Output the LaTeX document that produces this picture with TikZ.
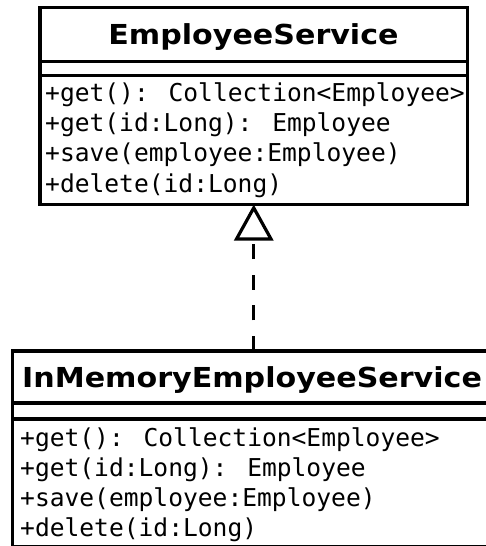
\documentclass[tikz,border=0pt]{standalone}
\usepackage{fontspec}
\usetikzlibrary{arrows.meta}
\newfontfamily\umltitle{DejaVu Sans}[BoldFont={DejaVu Sans Bold},FakeStretch=1.095]
\newfontfamily\umlmono{DejaVu Sans Mono}
\begin{document}
\begin{tikzpicture}[x=1pt,y=-1pt,
  classbox/.style={draw=black,line width=3.4pt,fill=white,inner sep=0pt,outer sep=0pt,anchor=north west},
  sepline/.style={draw=black,line width=3.4pt},
  titletext/.style={inner sep=0pt,anchor=base,font=\umltitle\bfseries\fontsize{27.5}{30}\selectfont},
  methodtext/.style={inner sep=0pt,anchor=base west,font=\umlmono\fontsize{24.6}{30}\selectfont},
  realize/.style={line width=3.4pt,dash pattern=on 15.3pt off 15.3pt,
    -{Triangle[open,length=36pt,width=39pt,line width=3.2pt]}}]
\useasboundingbox (0,0) rectangle (486,546);
\clip (0,0) rectangle (486,546);
% top class
\node[classbox,minimum width=427.5pt,minimum height=197pt] (es) at (40,7.5) {};
\draw[sepline] (40,61.5) -- (467.5,61.5);
\draw[sepline] (40,75.5) -- (467.5,75.5);
\node[titletext] (est) at (253.5,44.5) {EmployeeService};
\node[methodtext] (esm1) at (45,101) {+get(): Collection<Employee>};
\node[methodtext] (esm2) at (45,131.3) {+get(id:Long): Employee};
\node[methodtext] (esm3) at (45,161.6) {+save(employee:Employee)};
\node[methodtext] (esm4) at (45,192) {+delete(id:Long)};
% bottom class
\node[classbox,minimum width=482pt,minimum height=196pt] (ims) at (12.5,351) {};
\draw[sepline] (12.5,403) -- (494.5,403);
\draw[sepline] (12.5,419) -- (494.5,419);
\node[titletext,anchor=base west] (imst) at (22,387) {InMemoryEmployeeService};
\node[methodtext] (imsm1) at (20,446.5) {+get(): Collection<Employee>};
\node[methodtext] (imsm2) at (20,476.5) {+get(id:Long): Employee};
\node[methodtext] (imsm3) at (20,506.5) {+save(employee:Employee)};
\node[methodtext] (imsm4) at (20,536) {+delete(id:Long)};
% realization
\draw[realize] (ims.north -| es.south) -- (es.south);
\end{tikzpicture}
\end{document}
